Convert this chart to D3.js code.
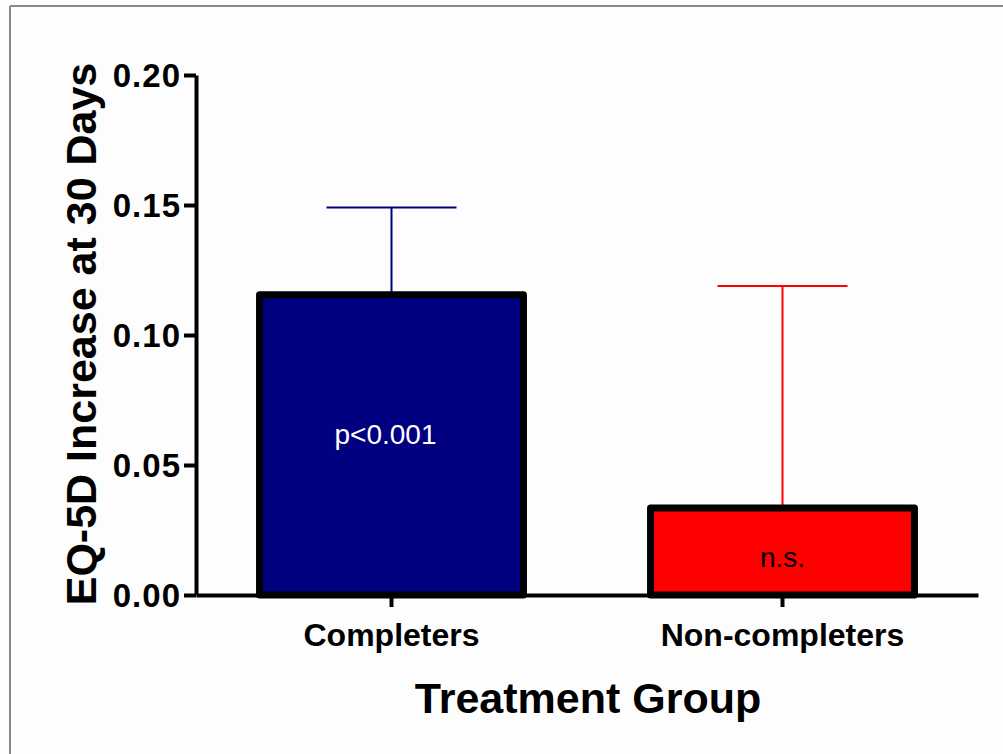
<!DOCTYPE html>
<html lang="en">
<head>
<meta charset="utf-8">
<script src="https://d3js.org/d3.v7.min.js"></script>
<style>
	body { margin: 0; background: #fdfdfd; }
	svg { display: block; }
	.axis path, .axis line { stroke: #000; }
	.axis text { font-family: "Liberation Sans", Arial, sans-serif; font-weight: bold; fill: #000; }
</style>
<title>EQ-5D</title>
</head>
<body>
<svg id="chart" width="1003" height="754"></svg>
<script>
	// data
	var groups = ["Completers", "Non-completers"];
	var means = [0.1155, 0.0335];
	var errs = [0.0335, 0.0853];
	var notes = ["p<0.001", "n.s."];
	var fills = ["#000080", "#ff0000"];
	var noteColors = ["#ffffff", "#000000"];
	var yTicks = [0, 0.05, 0.10, 0.15, 0.20];

	var svg = d3.select("#chart");

	// frame (only top and left edges show in the original crop)
	svg.append("line").attr("x1", 10).attr("y1", 6).attr("x2", 1003).attr("y2", 6)
		.attr("stroke", "#888").attr("stroke-width", 2);
	svg.append("line").attr("x1", 10).attr("y1", 6).attr("x2", 10).attr("y2", 754)
		.attr("stroke", "#888").attr("stroke-width", 2);

	var x0 = 196, x1 = 978, yTop = 75, yBot = 595;

	var x = d3.scaleBand().domain(groups).range([x0, x1])
		.paddingInner(0.325).paddingOuter(0.1625);
	var y = d3.scaleLinear().domain([0, 0.20]).range([yBot, yTop]);

	var g = svg.append("g");

	// error bars (upper only), drawn under the bars
	var eb = g.selectAll(".err").data(groups).enter().append("g").attr("class", "err");
	eb.append("line")
		.attr("x1", function(d) { return x(d) + x.bandwidth() / 2; })
		.attr("x2", function(d) { return x(d) + x.bandwidth() / 2; })
		.attr("y1", function(d, i) { return y(means[i]); })
		.attr("y2", function(d, i) { return y(means[i] + errs[i]); })
		.attr("stroke", function(d, i) { return fills[i]; })
		.attr("stroke-width", 2);
	eb.append("line")
		.attr("x1", function(d) { return x(d) + x.bandwidth() / 2 - 65; })
		.attr("x2", function(d) { return x(d) + x.bandwidth() / 2 + 65; })
		.attr("y1", function(d, i) { return y(means[i] + errs[i]); })
		.attr("y2", function(d, i) { return y(means[i] + errs[i]); })
		.attr("stroke", function(d, i) { return fills[i]; })
		.attr("stroke-width", 2);

	// bars
	g.selectAll(".bar").data(groups).enter().append("rect")
		.attr("class", "bar")
		.attr("x", function(d) { return x(d); })
		.attr("width", x.bandwidth())
		.attr("y", function(d, i) { return y(means[i]); })
		.attr("height", function(d, i) { return y(0) - y(means[i]); })
		.attr("fill", function(d, i) { return fills[i]; })
		.attr("stroke", "#000")
		.attr("stroke-width", 7)
		.attr("stroke-linejoin", "round");

	// text inside bars
	g.selectAll(".note").data(groups).enter().append("text")
		.attr("x", function(d, i) { return x(d) + x.bandwidth() / 2 + (i == 0 ? -6 : 0); })
		.attr("y", function(d, i) { return i == 0 ? 444 : 567; })
		.attr("text-anchor", "middle")
		.style("font-family", "'Liberation Sans', Arial, sans-serif")
		.style("font-size", "28px")
		.attr("fill", function(d, i) { return noteColors[i]; })
		.text(function(d, i) { return notes[i]; });

	// y axis
	var yAxis = g.append("g").attr("class", "axis")
		.attr("transform", "translate(" + x0 + ",0)")
		.call(d3.axisLeft(y).tickValues(yTicks).tickFormat(d3.format(".2f"))
			.tickSize(12).tickSizeOuter(0).tickPadding(3));
	yAxis.select(".domain").attr("stroke-width", 4);
	yAxis.selectAll(".tick line").attr("stroke-width", 4);
	yAxis.selectAll(".tick text").style("font-size", "33px").style("letter-spacing", "1px").attr("dy", "0.36em");

	// x axis
	var xAxis = g.append("g").attr("class", "axis")
		.attr("transform", "translate(0," + yBot + ")")
		.call(d3.axisBottom(x).tickSize(12).tickSizeOuter(0).tickPadding(16));
	xAxis.select(".domain").attr("stroke-width", 4);
	xAxis.selectAll(".tick line").attr("stroke-width", 4);
	xAxis.selectAll(".tick text").style("font-size", "32px");

	// axis titles
	svg.append("text")
		.attr("transform", "translate(96," + 334 + ") rotate(-90)")
		.attr("text-anchor", "middle")
		.style("font-family", "'Liberation Sans', Arial, sans-serif")
		.style("font-weight", "bold")
		.style("font-size", "43px")
		.text("EQ-5D Increase at 30 Days");

	svg.append("text")
		.attr("x", 588).attr("y", 713)
		.attr("text-anchor", "middle")
		.style("font-family", "'Liberation Sans', Arial, sans-serif")
		.style("font-weight", "bold")
		.style("font-size", "43px")
		.text("Treatment Group");
</script>
</body>
</html>
